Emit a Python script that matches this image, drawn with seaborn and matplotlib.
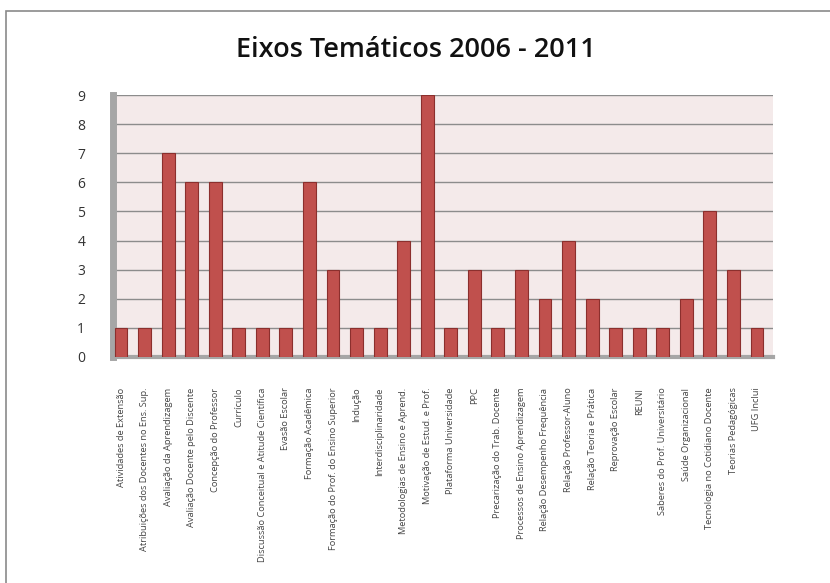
import matplotlib
matplotlib.use("Agg")
import matplotlib.pyplot as plt
import seaborn as sns
import pandas as pd
from matplotlib.patches import Rectangle

categorias = [
    "Atividades de Extensão",
    "Atribuições dos Docentes no Ens. Sup.",
    "Avaliação da Aprendizagem",
    "Avaliação Docente pelo Discente",
    "Concepção do Professor",
    "Currículo",
    "Discussão Conceitual e Atitude Científica",
    "Evasão Escolar",
    "Formação Acadêmica",
    "Formação do Prof. do Ensino Superior",
    "Indução",
    "Interdisciplinaridade",
    "Metodologias de Ensino e Aprend.",
    "Motivação de Estud. e Prof.",
    "Plataforma Universidade",
    "PPC",
    "Precarização do Trab. Docente",
    "Processos de Ensino Aprendizagem",
    "Relação Desempenho Frequência",
    "Relação Professor-Aluno",
    "Relação Teoria e Prática",
    "Reprovação Escolar",
    "REUNI",
    "Saberes do Prof. Universitário",
    "Saúde Organizacional",
    "Tecnologia no Cotidiano Docente",
    "Teorias Pedagógicas",
    "UFG Inclui",
]
valores = [1, 1, 7, 6, 6, 1, 1, 1, 6, 3, 1, 1, 4, 9, 1, 3, 1, 3, 2, 4, 2, 1, 1, 1, 2, 5, 3, 1]
yticks = list(range(0, 10))

df = pd.DataFrame({"tema": categorias, "n": valores})

sns.set_theme(style="white")
plt.rcParams["font.family"] = ["Open Sans", "DejaVu Sans"]

fig = plt.figure(figsize=(8.3, 5.83), dpi=100)
fig.patch.set_facecolor("white")
# outer chart border (top/left visible)
fig.add_artist(Rectangle((6 / 830, -0.05), 1.2, 1 - 11 / 583 + 0.05,
                         transform=fig.transFigure, fill=False,
                         edgecolor="#8a8a8a", linewidth=1.2))

ax = fig.add_axes([113 / 830, 1 - 357 / 583, (773 - 113) / 830, (357 - 95) / 583])
ax.set_facecolor("#f4eaea")

sns.barplot(data=df, x="tema", y="n", color="#c0504d", width=0.55,
            edgecolor="#8b2f2d", linewidth=0.8, saturation=1, ax=ax, zorder=3)

ax.set_ylim(0, 9)
ax.set_xlim(-0.34, 27.68)
ax.set_yticks(yticks)
ax.set_yticklabels([str(v) for v in yticks], fontsize=10, color="#333333")
ax.yaxis.grid(True, color="#8c8c8c", linewidth=1.0, zorder=0)
ax.set_axisbelow(True)
ax.set_xlabel("")
ax.set_ylabel("")
ax.tick_params(axis="y", length=0, pad=20)
ax.tick_params(axis="x", length=0, pad=22)
ax.set_xticks(range(len(categorias)))
ax.set_xticklabels(categorias, rotation=90, fontsize=6.7, color="#444444", va="top", ha="center")

for side in ["top", "right"]:
    ax.spines[side].set_visible(False)
ax.spines["left"].set_color("#a6a6a6")
ax.spines["left"].set_linewidth(5)
ax.spines["bottom"].set_color("#a6a6a6")
ax.spines["bottom"].set_linewidth(3)

fig.text(416 / 830, 1 - 50 / 583, "Eixos Temáticos 2006 - 2011", ha="center", va="center",
         fontsize=19.5, color="#111111", fontweight="semibold")

fig.savefig("out.png", dpi=100)
